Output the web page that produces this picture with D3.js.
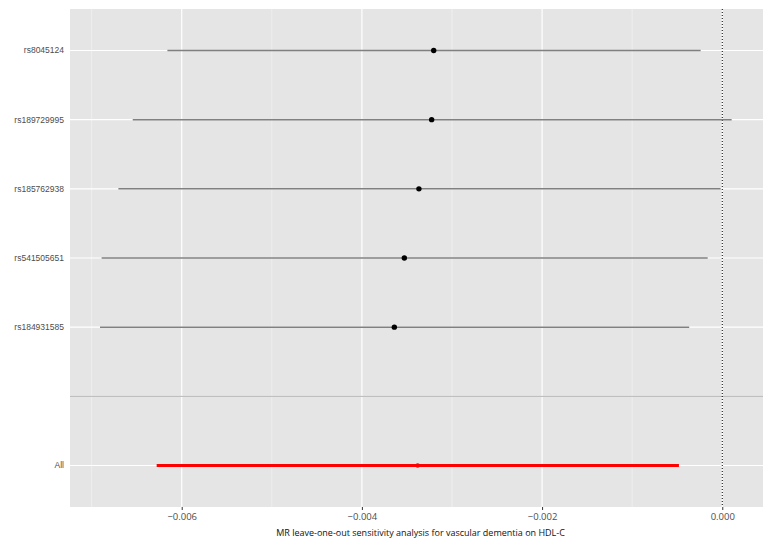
<!DOCTYPE html>
<html>
<head>
<meta charset="utf-8">
<script src="https://cdn.jsdelivr.net/npm/d3@7"></script>
<style>
  body { margin: 0; background: #fff; }
  svg { display: block; }
</style>
</head>
<body>
<svg></svg>
<script>
// leave-one-out data, top to bottom
var snps = ["rs8045124", "rs189729995", "rs185762938", "rs541505651", "rs184931585", "All"];
var rowPos = [7, 6, 5, 4, 3, 1];
var beta = [-0.003203, -0.003226, -0.003367, -0.003529, -0.003640, -0.003381];
var lower = [-0.006159, -0.006544, -0.006703, -0.006889, -0.006907, -0.006278];
var upper = [-0.000240, 0.000104, -0.000018, -0.000162, -0.000367, -0.000481];
var xTicks = [-0.006, -0.004, -0.002, 0.000];
var xMinor = [-0.007, -0.005, -0.003, -0.001];

var width = 772;
var height = 544;

var svg = d3.select("svg")
            .attr("width", width)
            .attr("height", height);

var pLeft = 70, pRight = 763, pTop = 9, pBottom = 507;

var xScale = d3.scaleLinear()
               .domain([-0.00724, 0.000452])
               .range([pLeft, pRight]);

var yScale = d3.scaleLinear()
               .domain([0.4, 7.6])
               .range([pBottom, pTop]);

var rows = snps.map(function(s, i) {
    return { snp: s, pos: rowPos[i], b: beta[i], lo: lower[i], hi: upper[i] };
});

// panel background
svg.append("rect")
   .attr("x", pLeft)
   .attr("y", pTop)
   .attr("width", pRight - pLeft)
   .attr("height", pBottom - pTop)
   .attr("fill", "#e5e5e5");

// minor gridlines
svg.append("g")
   .selectAll("line")
   .data(xMinor)
   .enter().append("line")
     .attr("x1", d => xScale(d)).attr("x2", d => xScale(d))
     .attr("y1", pTop).attr("y2", pBottom)
     .attr("stroke", "#f2f2f2")
     .attr("stroke-width", 0.7);

// major gridlines
svg.append("g")
   .selectAll("line")
   .data(xTicks)
   .enter().append("line")
     .attr("x1", d => xScale(d)).attr("x2", d => xScale(d))
     .attr("y1", pTop).attr("y2", pBottom)
     .attr("stroke", "#fff")
     .attr("stroke-width", 1.2);

svg.append("g")
   .selectAll("line")
   .data([1, 2, 3, 4, 5, 6, 7])
   .enter().append("line")
     .attr("x1", pLeft).attr("x2", pRight)
     .attr("y1", d => yScale(d)).attr("y2", d => yScale(d))
     .attr("stroke", "#fff")
     .attr("stroke-width", 1.2);

// separator between single SNPs and the overall estimate
svg.append("line")
   .attr("x1", pLeft).attr("x2", pRight)
   .attr("y1", yScale(2)).attr("y2", yScale(2))
   .attr("stroke", "#b3b3b3")
   .attr("stroke-width", 1);

// zero line
svg.append("line")
   .attr("x1", xScale(0)).attr("x2", xScale(0))
   .attr("y1", pTop).attr("y2", pBottom)
   .attr("stroke", "#000")
   .attr("stroke-width", 1)
   .attr("stroke-dasharray", "1,2");

// CI bars
svg.append("g")
   .selectAll("line")
   .data(rows)
   .enter().append("line")
     .attr("x1", d => xScale(d.lo))
     .attr("x2", d => xScale(d.hi))
     .attr("y1", d => yScale(d.pos))
     .attr("y2", d => yScale(d.pos))
     .attr("stroke", d => d.snp == "All" ? "#ff0000" : "#808080")
     .attr("stroke-width", d => d.snp == "All" ? 2.8 : 1.5);

// point estimates
svg.append("g")
   .selectAll("circle")
   .data(rows)
   .enter().append("circle")
     .attr("cx", d => xScale(d.b))
     .attr("cy", d => yScale(d.pos))
     .attr("r", d => d.snp == "All" ? 2.2 : 2.7)
     .attr("fill", d => d.snp == "All" ? "#ff0000" : "#000");

// y labels
svg.append("g")
   .selectAll("text")
   .data(rows)
   .enter().append("text")
     .attr("x", pLeft - 6)
     .attr("y", d => yScale(d.pos))
     .attr("dy", "0.35em")
     .attr("text-anchor", "end")
     .style("font-family", "Liberation Sans, Arial, sans-serif")
     .style("font-size", "8.5px")
     .style("fill", "#4d4d4d")
     .text(d => d.snp);

// x axis
var xAxis = svg.append("g")
   .attr("transform", "translate(0," + pBottom + ")")
   .call(d3.axisBottom(xScale)
      .tickValues(xTicks)
      .tickSize(3)
      .tickPadding(3)
      .tickFormat(d3.format(".3f")));

xAxis.select(".domain").remove();
xAxis.selectAll(".tick line").attr("stroke", "#333").attr("stroke-width", 1);
xAxis.selectAll("text")
     .style("font-family", "Open Sans, sans-serif")
     .style("font-size", "9.5px")
     .style("fill", "#4d4d4d");

// x axis title
svg.append("text")
   .attr("x", (pLeft + pRight) / 2 + 4)
   .attr("y", 536)
   .attr("text-anchor", "middle")
   .style("font-family", "Open Sans, sans-serif")
   .style("font-size", "9px")
   .style("fill", "#111")
   .text("MR leave-one-out sensitivity analysis for vascular dementia on HDL-C");
</script>
</body>
</html>
